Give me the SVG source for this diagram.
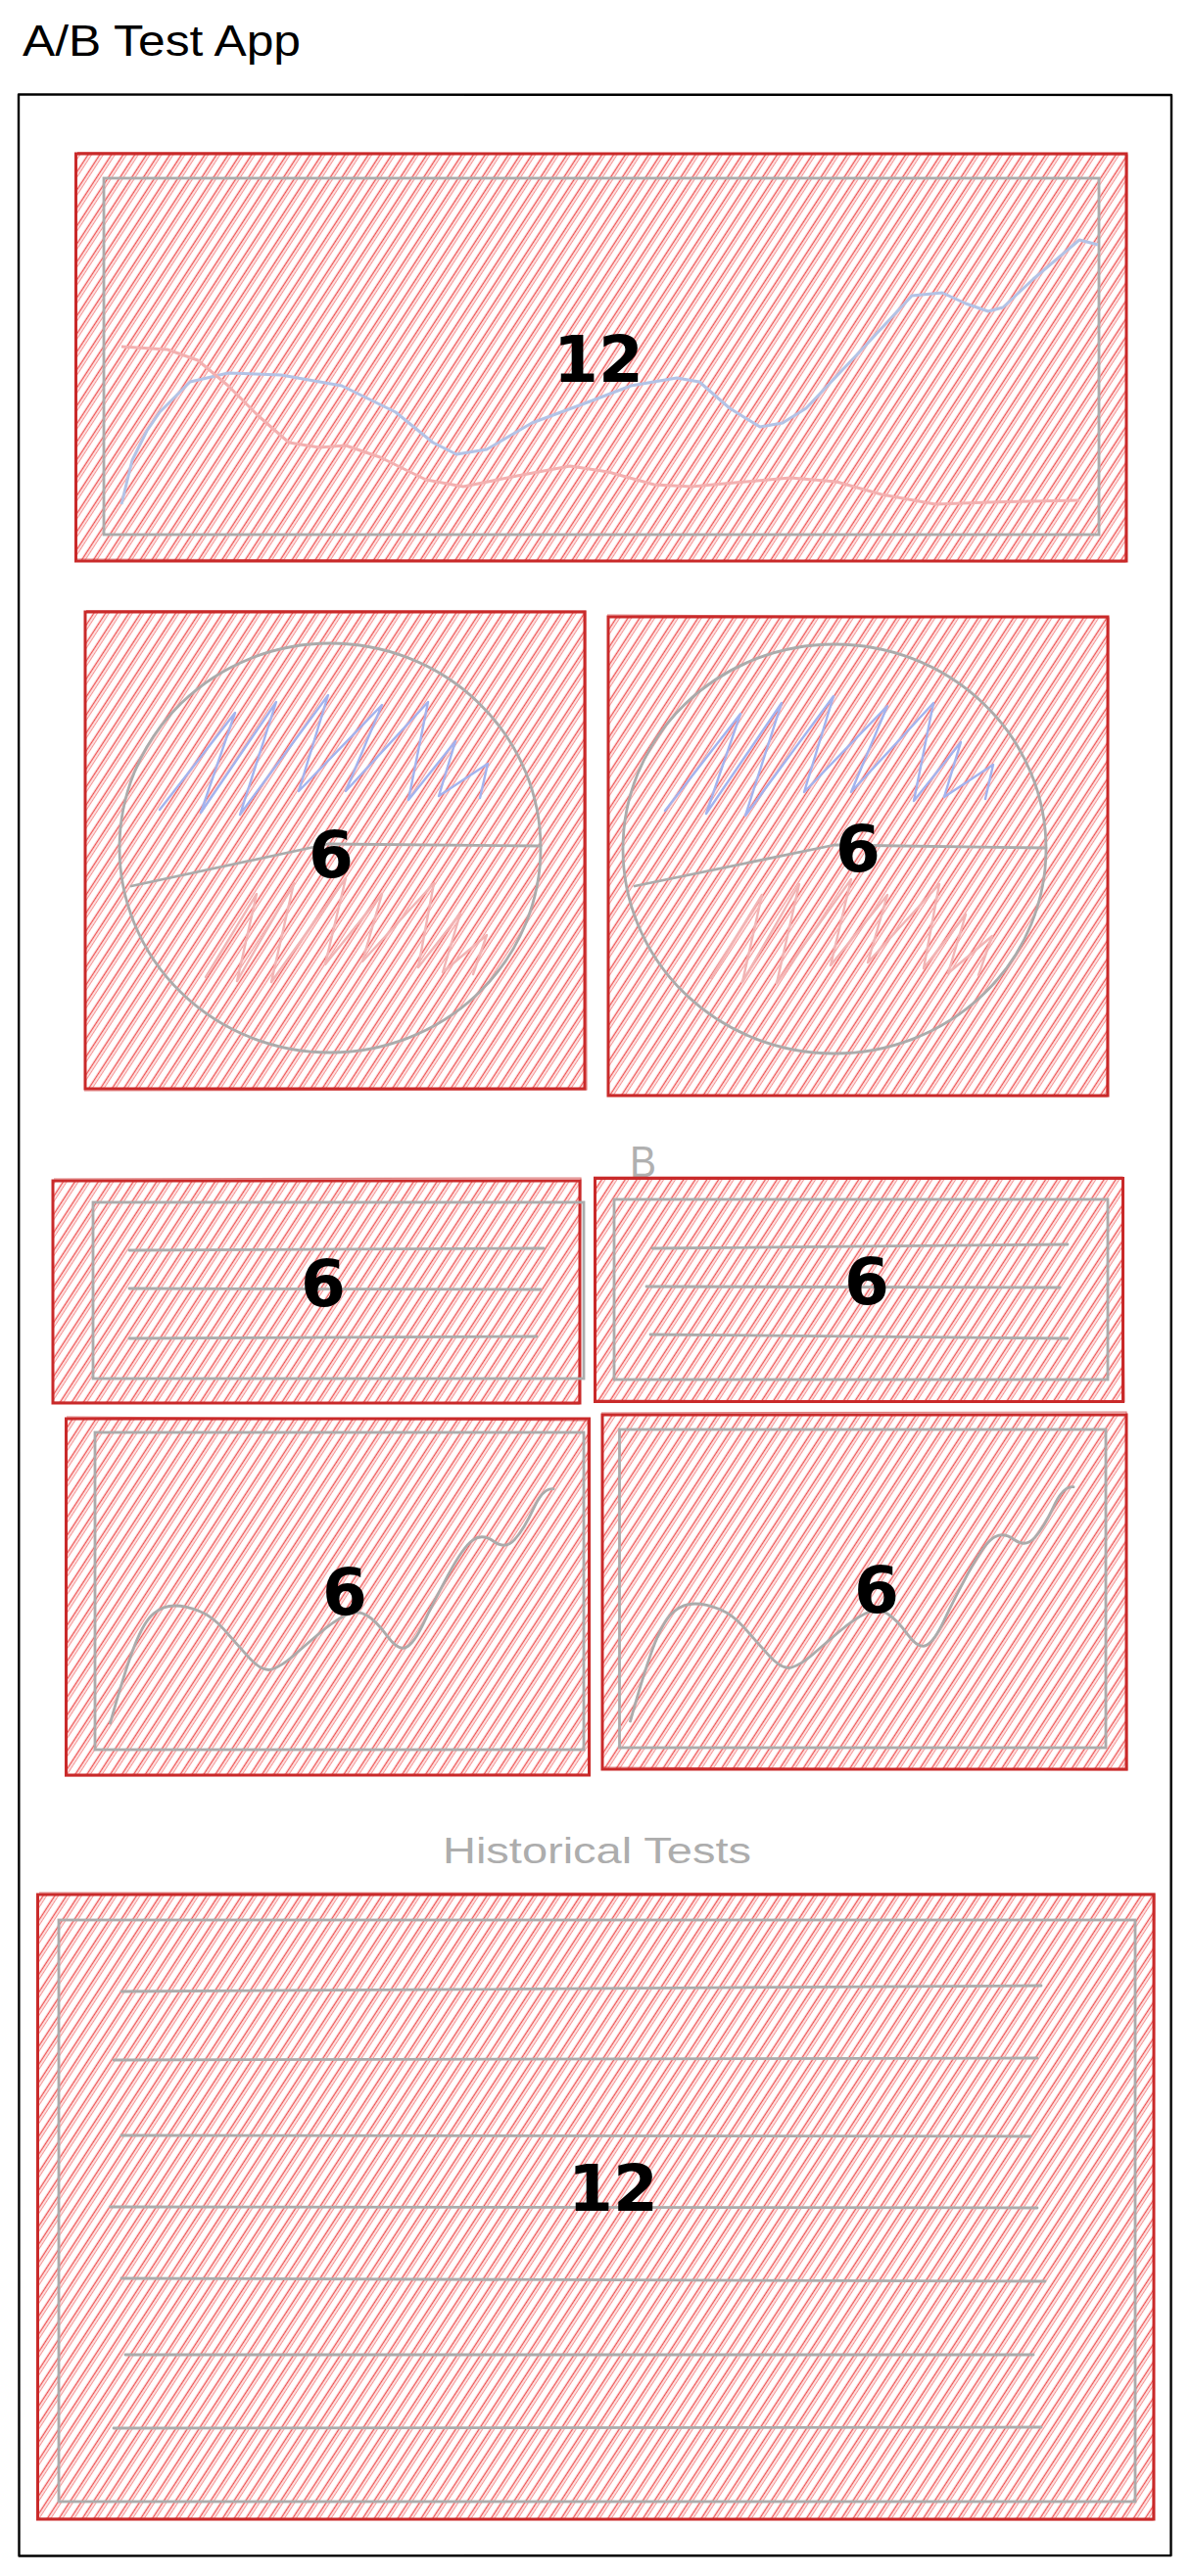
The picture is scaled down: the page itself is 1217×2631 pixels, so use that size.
<svg xmlns="http://www.w3.org/2000/svg" xmlns:xlink="http://www.w3.org/1999/xlink" width="1217" height="2631" viewBox="0 0 1217 2631">
<defs>
<pattern id="hatch" patternUnits="userSpaceOnUse" width="40" height="10" patternTransform="rotate(-57)">
<line x1="-2" y1="1.5" x2="42" y2="1.5" stroke="#ec3c3c" stroke-width="1.5" stroke-opacity="0.88"/>
<line x1="-2" y1="4.3" x2="42" y2="4.3" stroke="#f05c5c" stroke-width="1" stroke-opacity="0.8"/>
</pattern>
<path id="scrib-blue" d="M163 827 L240 728 L205 830 L282 717 L245 832 L335 710 L305 808 L390 720 L353 808 L437 717 L417 817 L465 757 L448 813 L498 780 L490 815"/>
<path id="scrib-pink" d="M210 998 L262 913 L242 1002 L300 902 L277 1003 L353 897 L332 985 L390 913 L370 982 L443 902 L427 988 L470 933 L452 993 L497 955 L483 995"/>
<path id="chart-curve" d="M112.5 1760 Q128 1704.6 137.7 1680 Q147.4 1655.5 157.1 1647.8 Q166.8 1640 178.4 1640 Q190 1640 203.5 1645.5 Q217 1651 228.8 1664.4 Q240.5 1677.8 254.1 1692.9 Q267.7 1708 277.4 1705 Q287 1702 298.5 1692 Q310 1682 325.5 1668.8 Q341 1655.5 352.9 1649.8 Q364.7 1644 374.4 1649.8 Q384 1655.5 395.5 1671.2 Q407 1686.8 415 1682.3 Q423 1677.8 432.5 1657.8 Q442 1637.7 457.5 1608.7 Q473 1579.6 482.9 1572.8 Q492.7 1566 504.4 1574.5 Q516 1583 525.5 1572.4 Q535 1561.8 544.9 1540.4 Q554.8 1519 565 1520.7"/>
</defs>
<style>
.frame{fill:none;stroke:#000;stroke-width:2.4;stroke-linejoin:round}
.box{fill:url(#hatch);stroke:#c92a2a;stroke-width:3}
.box2{fill:none;stroke:#c92a2a;stroke-width:1.2;stroke-opacity:0.6}
.inner{fill:none;stroke:#ababab;stroke-width:2.8}
.gline{fill:none;stroke:#ababab;stroke-width:2.8;stroke-linecap:round}
.blue{fill:none;stroke:#a3b3ee;stroke-width:2.4;stroke-linejoin:round;stroke-linecap:round}
.pink{fill:none;stroke:#f2b4b4;stroke-width:2.4;stroke-linejoin:round;stroke-linecap:round}
.cblue{fill:none;stroke:#b3c3e6;stroke-width:3;stroke-linejoin:round}
.cpink{fill:none;stroke:#f3b0b0;stroke-width:3;stroke-linejoin:round}
.num{font-family:"DejaVu Sans","Liberation Sans",sans-serif;font-weight:700;font-size:66px;fill:#000;text-anchor:middle}
.hand{font-family:"Liberation Sans","Open Sans",sans-serif}
</style>

<g id="frame">
<path class="frame" d="M19 96.5 L1196 97 L1195.5 2610 L19.5 2610.5 Z"/>
</g>

<g id="title">
<text class="hand" x="23" y="57" font-size="44" fill="#000" textLength="284" lengthAdjust="spacingAndGlyphs">A/B Test App</text>
</g>

<g id="main-chart">
<rect class="box" x="77.5" y="157" width="1072.5" height="416"/>
<path class="box2" d="M79 155.5 L1151 158 L1149 574 L78 571"/>
<rect class="inner" x="106" y="182" width="1016" height="364"/>
<path class="cblue" d="M124 515 L135 470 L150 440 L163 421 L194 390 L233 381 L287 383 L349 394 L404 421 L442 452 L466 464 L497 459 L543 432 L605 409 L644 394 L691 386 L714 390 L745 417 L776 436 L799 432 L823 417 L877 360 L931 302 L962 299 L986 310 L1009 318 L1024 314 L1055 285 L1102 245 L1121 250"/>
<path class="cpink" d="M124 354 L171 357 L202 368 L233 394 L264 425 L295 452 L326 457 L353 455 L388 467 L435 490 L473 497 L528 486 L582 476 L621 482 L668 495 L706 497 L761 492 L807 488 L854 492 L900 505 L955 515 L1009 513 L1102 511"/>
<text class="num" x="611" y="390">12</text>
</g>

<g id="pie-a">
<rect class="box" x="87" y="625" width="510" height="487"/>
<path class="box2" d="M88 623.5 L598 624 L599 1113 L86 1114"/>
<ellipse class="inner" cx="337" cy="866" rx="215" ry="209"/>
<path class="gline" d="M335 862 L552 864 M335 862 L134 905"/>
<use xlink:href="#scrib-blue" class="blue"/>
<use xlink:href="#scrib-pink" class="pink"/>
<text class="num" x="338" y="896">6</text>
</g>

<g id="pie-b">
<rect class="box" x="621" y="630" width="510" height="489"/>
<path class="box2" d="M620 628 L1132 631 L1130 1120 L622 1118"/>
<ellipse class="inner" cx="852" cy="867" rx="216" ry="209"/>
<path class="gline" d="M852 863 L1068 866 M852 863 L648 905"/>
<use xlink:href="#scrib-blue" class="blue" transform="translate(516,1)"/>
<use xlink:href="#scrib-pink" class="pink" transform="translate(516,1)"/>
<text class="num" x="876" y="890">6</text>
</g>

<g id="label-b">
<text class="hand" x="643" y="1202" font-size="44" fill="#b0b0b0" textLength="27" lengthAdjust="spacingAndGlyphs">B</text>
</g>

<g id="table-a">
<rect class="box" x="54" y="1206" width="538" height="227"/>
<path class="box2" d="M55 1204 L593 1203 L591 1434 L53 1432"/>
<rect class="inner" x="95" y="1228" width="501" height="180"/>
<path class="gline" d="M132 1277 L555 1275 M132 1316 L552 1317 M132 1367 L548 1365"/>
<text class="num" x="330" y="1334">6</text>
</g>

<g id="table-b">
<rect class="box" x="607.5" y="1203.5" width="539" height="228"/>
<path class="box2" d="M606 1202 L1146 1202 L1148 1432 L608 1430"/>
<rect class="inner" x="627" y="1225" width="504" height="184"/>
<path class="gline" d="M666 1275 L1090 1271 M660 1314 L1082 1315 M664 1363 L1090 1367"/>
<text class="num" x="885" y="1332">6</text>
</g>

<g id="line-chart-a">
<rect class="box" x="67.5" y="1449" width="534" height="364"/>
<path class="box2" d="M68 1447 L600 1451 L602 1812 L66 1814"/>
<rect class="inner" x="97" y="1463" width="499" height="324"/>
<use xlink:href="#chart-curve" class="gline"/>
<text class="num" x="352" y="1649">6</text>
</g>

<g id="line-chart-b">
<rect class="box" x="615" y="1445" width="535" height="362"/>
<path class="box2" d="M614 1443 L1150 1442 L1151 1808 L616 1805"/>
<rect class="inner" x="632.5" y="1460" width="496.5" height="325"/>
<use xlink:href="#chart-curve" class="gline" transform="translate(531,-2)"/>
<text class="num" x="895" y="1647">6</text>
</g>

<g id="label-historical">
<text class="hand" x="452" y="1903" font-size="36" fill="#adadad" textLength="315" lengthAdjust="spacingAndGlyphs">Historical Tests</text>
</g>

<g id="historical-table">
<rect class="box" x="38.5" y="1935" width="1139.5" height="638"/>
<path class="box2" d="M40 1933 L1179 1934 L1177 2574 L39 2572"/>
<rect class="inner" x="60" y="1961" width="1099" height="594"/>
<path class="gline" d="M124 2034 L1063 2028 M116 2104 L1059 2102 M124 2181 L1052 2182 M112.5 2254 L1059 2255 M124 2327 L1067 2330 M128 2405 L1055 2405 M116 2480 L1063 2479"/>
<text class="num" x="626" y="2258">12</text>
</g>
</svg>
